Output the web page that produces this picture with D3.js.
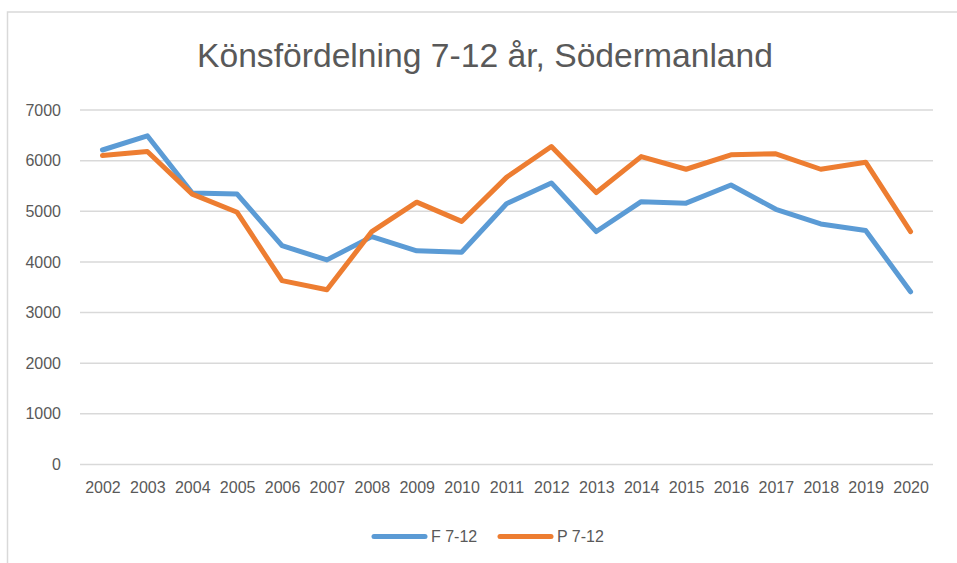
<!DOCTYPE html>
<html>
<head>
<meta charset="utf-8">
<script src="https://cdn.jsdelivr.net/npm/d3@7/dist/d3.min.js"></script>
<style>
  body { margin: 0; background: #fff; }
  svg { display: block; font-family: "Liberation Sans", Arial, sans-serif; }
</style>
</head>
<body>
<svg id="chart"></svg>
<script>
const WIDTH = 957;
const HEIGHT = 563;
const TEXT_COLOR = "#595959";
const GRID_COLOR = "#d9d9d9";

const years = ["2002","2003","2004","2005","2006","2007","2008","2009","2010","2011",
               "2012","2013","2014","2015","2016","2017","2018","2019","2020"];
const f712 = [6210, 6490, 5360, 5340, 4320, 4040, 4500, 4220, 4190, 5150,
              5560, 4600, 5190, 5160, 5520, 5040, 4750, 4620, 3410];
const p712 = [6100, 6180, 5340, 4980, 3630, 3450, 4600, 5180, 4800, 5670,
              6280, 5370, 6080, 5830, 6115, 6135, 5830, 5970, 4600];
const yTicks = [0, 1000, 2000, 3000, 4000, 5000, 6000, 7000];
const seriesNames = ["F 7-12", "P 7-12"];
const colors = ["#5b9bd5", "#ed7d31"];

const svg = d3.select("#chart").attr("width", WIDTH).attr("height", HEIGHT);

// chart area border (only top/left visible in the crop)
svg.append("rect")
   .attr("x", 7.5).attr("y", 12)
   .attr("width", WIDTH + 20).attr("height", HEIGHT + 20)
   .attr("fill", "#fff")
   .attr("stroke", GRID_COLOR)
   .attr("stroke-width", 1.5);

svg.append("text")
   .text("Könsfördelning 7-12 år, Södermanland")
   .attr("x", 485).attr("y", 67)
   .attr("text-anchor", "middle")
   .attr("font-family", "'Liberation Sans Narrow', 'Liberation Sans', sans-serif")
   .attr("font-size", 33)
   .attr("textLength", 576)
   .attr("lengthAdjust", "spacingAndGlyphs")
   .attr("fill", TEXT_COLOR);

const xScale = d3.scalePoint()
   .domain(years)
   .range([80, 933])
   .padding(0.5);

const yScale = d3.scaleLinear()
   .domain([0, 7000])
   .range([464.5, 110]);

// gridlines
svg.append("g")
   .selectAll("line")
   .data(yTicks)
   .enter()
   .append("line")
   .attr("x1", 80).attr("x2", 933)
   .attr("y1", d => yScale(d)).attr("y2", d => yScale(d))
   .attr("stroke", GRID_COLOR)
   .attr("stroke-width", 1.5);

// y axis labels
const axisY = svg.append("g")
   .attr("transform", "translate(61,0)")
   .call(d3.axisLeft(yScale).tickValues(yTicks).tickSize(0).tickPadding(0).tickFormat(d3.format("d")));
axisY.select(".domain").remove();
axisY.selectAll("text")
   .attr("font-size", 16)
   .attr("font-family", "'Liberation Sans', sans-serif")
   .attr("fill", TEXT_COLOR);

// x axis labels
const axisX = svg.append("g")
   .attr("transform", "translate(0,482)")
   .call(d3.axisBottom(xScale).tickSize(0).tickPadding(0));
axisX.select(".domain").remove();
axisX.selectAll("text")
   .attr("font-size", 16)
   .attr("font-family", "'Liberation Sans', sans-serif")
   .attr("fill", TEXT_COLOR);

const line = d3.line()
   .x((_, i) => xScale(years[i]))
   .y(d => yScale(d));

[f712, p712].forEach((values, i) => {
   svg.append("path")
      .datum(values)
      .attr("d", line)
      .attr("fill", "none")
      .attr("stroke", colors[i])
      .attr("stroke-width", 5)
      .attr("stroke-linejoin", "round")
      .attr("stroke-linecap", "round");
});

// legend
const legendX = [372, 498];
const legend = svg.append("g").attr("id", "legend");
seriesNames.forEach((name, i) => {
   const g = legend.append("g").attr("transform", `translate(${legendX[i]},536.5)`);
   g.append("line")
      .attr("x1", 2).attr("x2", 53)
      .attr("stroke", colors[i])
      .attr("stroke-width", 5)
      .attr("stroke-linecap", "round");
   g.append("text")
      .text(name)
      .attr("x", 59).attr("y", 5.5)
      .attr("font-size", 16)
      .attr("fill", TEXT_COLOR);
});
</script>
</body>
</html>
